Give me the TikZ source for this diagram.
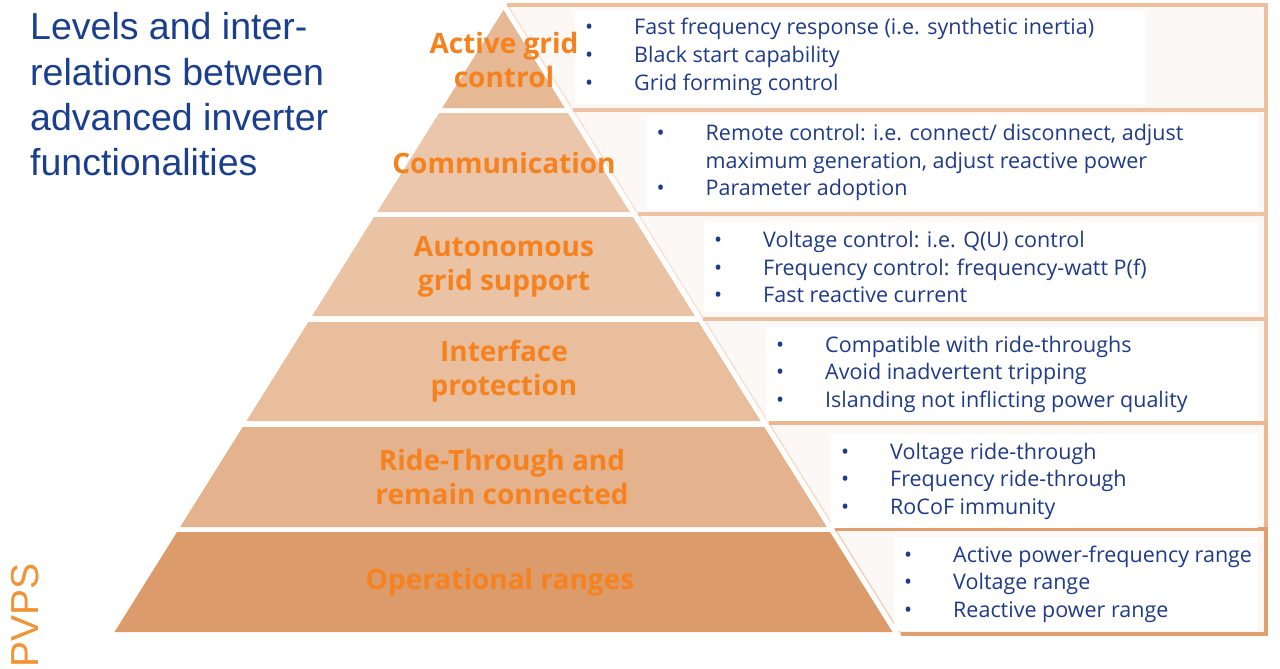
\documentclass[tikz,border=0pt]{standalone}
\usepackage{fontspec}
\setmainfont{Open Sans}
\newfontfamily\headfont{Liberation Sans}
\usetikzlibrary{calc}

% palette
\definecolor{titleblue}{HTML}{1B3F8F}
\definecolor{itemblue}{HTML}{1F3A8A}
\definecolor{lvlorange}{HTML}{F5821F}
\definecolor{pvpsorange}{HTML}{F39233}
\definecolor{boxfill}{HTML}{FCF8F5}
\definecolor{bandA}{HTML}{E6B894}
\definecolor{bandB}{HTML}{EBC6AA}
\definecolor{bandC}{HTML}{EAC3A4}
\definecolor{bandD}{HTML}{E8BE9D}
\definecolor{bandE}{HTML}{E4B28C}
\definecolor{bandF}{HTML}{DC9B6A}
\definecolor{boxA}{HTML}{EFBE9A}
\definecolor{boxB}{HTML}{EEC3A3}
\definecolor{boxC}{HTML}{EEC3A3}
\definecolor{boxD}{HTML}{EDBF9E}
\definecolor{boxE}{HTML}{EBB690}
\definecolor{boxF}{HTML}{E09F6D}

% one bullet line: dot centred on the start, text 45pt to the right, never wrapped
\newcommand\bitem[1]{\mbox{\makebox[0pt]{\textbullet}\hspace*{45pt}#1}\par}
\newcommand\bcont[1]{\mbox{\hspace*{45pt}#1}\par}

\tikzset{
  itembox/.style={anchor=base west, fill=white, inner xsep=14pt, inner ysep=9pt,
    font=\fontsize{21.5}{27.5}\selectfont, text=itemblue},
  levellabel/.style={align=center, text=lvlorange,
    font=\fontsize{28}{34}\selectfont\bfseries, inner sep=0pt},
}

\begin{document}
\begin{tikzpicture}[x=1pt,y=-1pt]
\useasboundingbox (0,0) rectangle (1280,669);
\fill[white] (0,0) rectangle (1280,669);

% framed boxes behind the pyramid, left edge parallel to its slope
\foreach \t/\b/\c in {5/110/boxA, 110/214/boxB, 214/318.5/boxC,
                      318.5/423/boxD, 423/529/boxE, 529/634/boxF}{
  \pgfmathsetmacro\lt{503.5+0.6254*(\t-10)+7}
  \pgfmathsetmacro\lb{503.5+0.6254*(\b-10)+7}
  \fill[boxfill] (\lt,\t) -- (1266,\t) -- (1266,\b) -- (\lb,\b) -- cycle;
  \draw[\c!45!white, line width=1.5] (\lb,\b) -- (\lt,\t);
  \draw[\c, line width=4] (\lt,\t) -- (1266,\t) -- (1266,\b) -- (\lb,\b);
}

% bullet lists
\node[itembox] (tA) at (575,35) {\parbox[t]{542pt}{%
  \bitem{Fast frequency response (i.e. synthetic inertia)}
  \bitem{Black start capability}
  \bitem{Grid forming control}}};
\node[itembox] (tB) at (646.5,140.5) {\parbox[t]{583pt}{%
  \bitem{Remote control: i.e. connect/ disconnect, adjust}
  \bcont{maximum generation, adjust reactive power}
  \bitem{Parameter adoption}}};
\node[itembox] (tC) at (704,247.5) {\parbox[t]{526pt}{%
  \bitem{Voltage control: i.e. Q(U) control}
  \bitem{Frequency control: frequency-watt P(f)}
  \bitem{Fast reactive current}}};
\node[itembox] (tD) at (766,352) {\parbox[t]{464pt}{%
  \bitem{Compatible with ride-throughs}
  \bitem{Avoid inadvertent tripping}
  \bitem{Islanding not inflicting power quality}}};
\node[itembox] (tE) at (831,459) {\parbox[t]{399pt}{%
  \bitem{Voltage ride-through}
  \bitem{Frequency ride-through}
  \bitem{RoCoF immunity}}};
\node[itembox] (tF) at (894,562) {\parbox[t]{336pt}{%
  \bitem{Active power-frequency range}
  \bitem{Voltage range}
  \bitem{Reactive power range}}};

% pyramid levels
\foreach \t/\b/\c in {10/108/bandA, 113/212/bandB, 217/316/bandC,
                      322/421/bandD, 427/527/bandE, 532/632/bandF}{
  \pgfmathsetmacro\wt{0.6254*(\t-10)}
  \pgfmathsetmacro\wb{0.6254*(\b-10)}
  \fill[\c] ({503.5-\wt},\t) -- ({503.5+\wt},\t) -- ({503.5+\wb},\b)
            -- ({503.5-\wb},\b) -- cycle;
}

% level names
\node[levellabel] (lA) at (504,60)    {Active grid\\control};
\node[levellabel] (lB) at (504,162.5) {Communication};
\node[levellabel] (lC) at (504,267)   {Autonomous\\grid support};
\node[levellabel] (lD) at (504,371.5) {Interface\\protection};
\node[levellabel] (lE) at (502,477)   {Ride-Through and\\remain connected};
\node[levellabel] (lF) at (500,582)   {Operational ranges};

% heading
\node[anchor=base west, inner sep=0pt, text=titleblue,
      font=\headfont\fontsize{37.5}{45.3}\selectfont] (title) at (30,40)
  {\parbox[t]{340pt}{Levels and inter-\\relations between\\advanced inverter\\functionalities}};

% logo lettering
\node[anchor=base west, inner sep=0pt, rotate=90, text=pvpsorange,
      font=\headfont\fontsize{39}{39}\selectfont] (pvps) at (38,668) {PVPS};
\end{tikzpicture}
\end{document}
